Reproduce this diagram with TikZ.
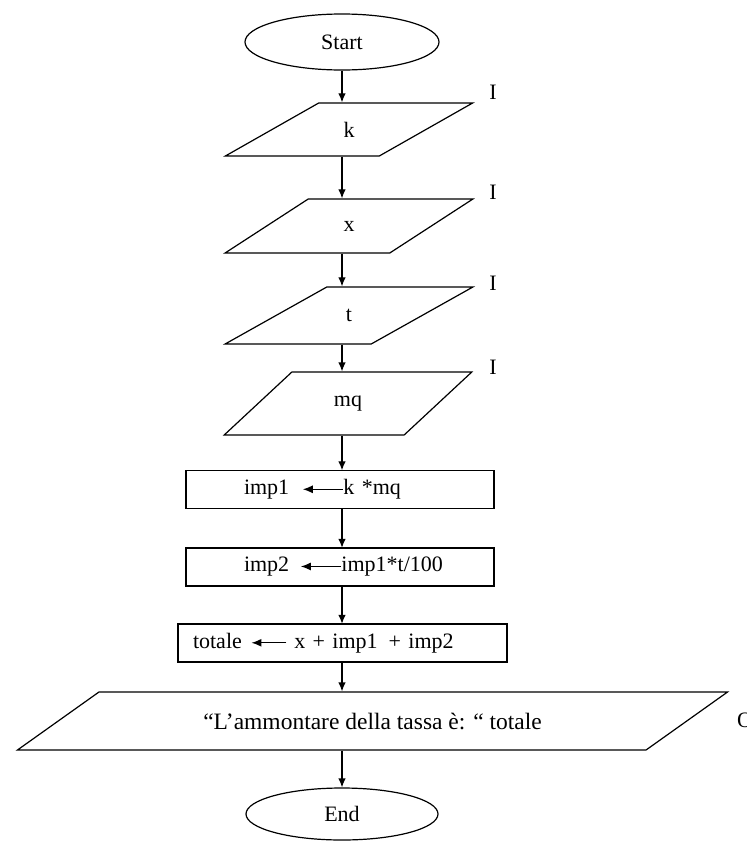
\documentclass[tikz,border=0pt]{standalone}
\usepackage{fontspec}
\setmainfont{Liberation Serif}
\usetikzlibrary{shapes.geometric, arrows.meta}

\newcommand{\getsarrow}[1]{\tikz[baseline=-5.5pt]\draw[-{Latex[length=10pt,width=8pt]}, line width=1.2pt] (#1pt,0pt) -- (0pt,0pt);}

\tikzset{
	term/.style = {ellipse, draw, minimum width=194pt, minimum height=56pt, inner sep=0pt},
	inbox/.style = {trapezium, draw, trapezium left angle=42, trapezium right angle=138,
		trapezium stretches=true, minimum width=248pt, inner sep=0pt},
	procbox/.style = {rectangle, draw, minimum height=38pt, align=left, inner sep=0pt},
	outbox/.style = {trapezium, draw, trapezium left angle=18.3, trapezium right angle=161.7,
		trapezium stretches=true, minimum width=711pt, minimum height=58pt, inner sep=0pt}
}

\begin{document}
\begin{tikzpicture}[x=1pt, y=-1pt, line width=1.2pt, >={Latex[length=9pt,width=7.5pt]},
		font=\fontsize{22pt}{26pt}\selectfont]
			\useasboundingbox (0,0) rectangle (747,841);
			\clip (0,0) rectangle (747,841);
			\node[term] (start) at (342,42) {Start};
			\node[inbox, minimum height=53pt] (k) at (349,129.5) {k};
			\node[inbox, minimum height=54pt] (x) at (349,226) {x};
			\node[inbox, minimum height=57pt] (t) at (349,315.5) {t};
			\node[inbox, minimum height=63pt] (mq) at (348,403.5) {mq};
			\node (ik) at (493,92) {I};
			\node (ix) at (493,192) {I};
			\node (it) at (493,283) {I};
			\node (imq) at (493,367) {I};
			\node[procbox, text width=308pt] (imp1) at (340,489.5) {\hspace*{58pt}imp1\hspace{13pt}\getsarrow{40}k *mq};
			\node[procbox, text width=308pt] (imp2) at (340,567) {\hspace*{58pt}imp2\hspace{11pt}\getsarrow{40}imp1*t/100};
			\node[procbox, text width=329pt] (totale) at (342.5,643) {\hspace*{15pt}totale\hspace{9pt}\getsarrow{35} x + imp1 \,+ imp2};
			\node[outbox, font=\fontsize{23.5pt}{27pt}\selectfont] (out) at (372.5,721) {“L’ammontare della tassa è: “ totale};
			\node (o) at (745,720) {O};
			\node[term, minimum width=192pt, minimum height=52pt] (end) at (342,814) {End};
			\draw [->] (start.south) -- (start.south |- k.north);
			\draw [->] (start.south |- k.south) -- (start.south |- x.north);
			\draw [->] (start.south |- x.south) -- (start.south |- t.north);
			\draw [->] (start.south |- t.south) -- (start.south |- mq.north);
			\draw [->] (start.south |- mq.south) -- (start.south |- imp1.north);
			\draw [->] (start.south |- imp1.south) -- (start.south |- imp2.north);
			\draw [->] (start.south |- imp2.south) -- (start.south |- totale.north);
			\draw [->] (start.south |- totale.south) -- (start.south |- out.north);
			\draw [->] (start.south |- out.south) -- (end.north);
			\end{tikzpicture}
\end{document}
